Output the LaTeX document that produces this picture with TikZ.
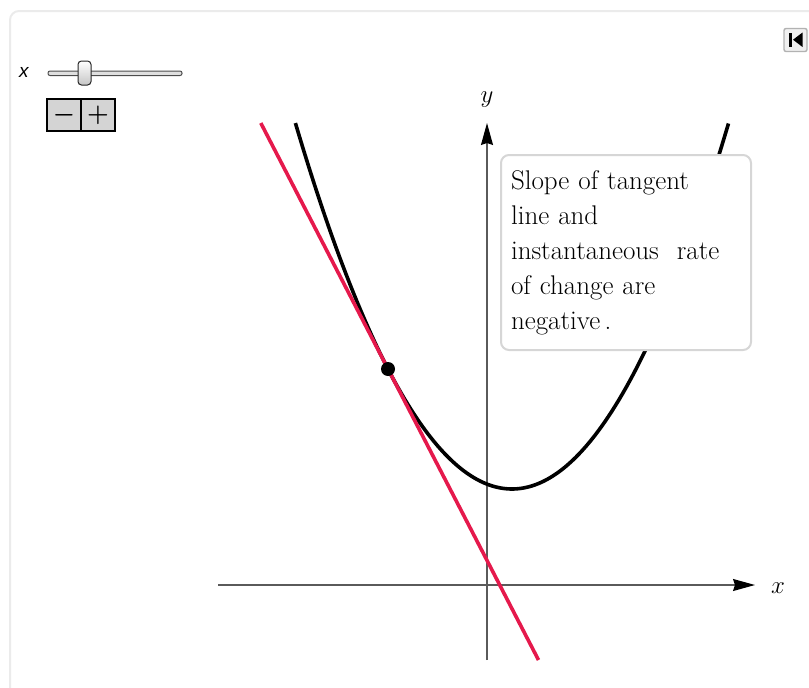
\documentclass[tikz,border=0pt]{standalone}
\usepackage{fontspec}
\setsansfont{Liberation Sans}
\usetikzlibrary{positioning,arrows.meta}
\definecolor{ink}{HTML}{000000}
\definecolor{rule}{HTML}{5A5A5A}
\definecolor{tangent}{HTML}{E5194C}
\definecolor{frame}{HTML}{EBEBEB}
\definecolor{boxline}{HTML}{D6D6D6}
\definecolor{btnfill}{HTML}{D4D4D4}
\tikzset{
  axis/.style     = {draw=rule, line width=1.2pt, -{Stealth[length=22pt,width=12pt,inset=2pt,color=ink]}},
  curve/.style    = {draw=ink, line width=3.6pt},
  tanline/.style  = {draw=tangent, line width=3.6pt},
  callout/.style  = {draw=boxline, fill=white, line width=2pt, rounded corners=8pt, anchor=north west,
                     outer sep=0pt, inner xsep=10pt, inner ysep=0pt, minimum width=250pt, minimum height=195pt,
                     text width=230pt, align=left, font=\fontsize{27}{35}\selectfont},
  axlab/.style    = {font=\fontsize{25}{30}\selectfont, inner sep=0pt, outer sep=0pt},
  btn/.style      = {draw=ink, fill=btnfill, line width=2pt, minimum width=34pt, minimum height=32pt,
                     inner sep=0pt, outer sep=0pt, font=\fontsize{30}{30}\selectfont\boldmath},
  dot/.style      = {circle, fill=ink, minimum size=14pt, inner sep=0pt},
}

\begin{document}
\begin{tikzpicture}[x=1pt,y=-1pt]
\path[use as bounding box] (0,0) rectangle (809,688);
\clip (0,0) rectangle (809,688);

% ---- the frame ----------------------------------------------------------
\draw[frame, line width=2pt, rounded corners=9pt] (10,720) -- (10,11) -- (840,11);

% ---- slider and steppers ------------------------------------------------
\node[anchor=center, font=\fontsize{19}{20}\selectfont\sffamily\itshape, inner sep=0pt] (xname) at (24,72) {x};
\draw[draw=gray!60!black, fill=gray!25, line width=1pt, rounded corners=2pt] (48,71) rectangle (182,75.5);
\draw[draw=gray!30!black, top color=white, bottom color=gray!45, line width=1pt, rounded corners=3.5pt] (78,61) rectangle (91,85);
\node[btn] (minus) at (64,115) {$-$};
\node[btn, right=0pt of minus] (plus) {$+$};

% ---- rewind icon --------------------------------------------------------
\node[draw=gray!60, fill=gray!12, line width=1.4pt, rounded corners=2pt, minimum size=23pt, inner sep=0pt] (rewind) at (795.5,40) {};
\fill[ink] (788.5,32.5) rectangle (791.5,47);
\fill[ink] (793,39.7) -- (802.5,32.5) -- (802.5,47) -- cycle;

% ---- axes ---------------------------------------------------------------
\coordinate (xtail) at (218,585);
\coordinate (xhead) at (755,585);
\coordinate (ytail) at (487,660);
\coordinate (yhead) at (487,123);
\draw[axis] (xtail) -- (xhead);
\draw[axis] (ytail) -- (yhead);
\node[axlab, right=16pt of xhead, yshift=-3pt] (xlab) {$x$};
\node[axlab, above=16pt of yhead] (ylab) {$y$};

% ---- curve and tangent --------------------------------------------------
\draw[curve] plot[domain=-2.166:2.166, samples=120, variable=\t] ({512+100*\t}, {489-78*\t*\t});
\coordinate (ttop) at (260.8,123);
\coordinate (tbot) at (538.5,660);
\draw[tanline] (ttop) -- (tbot);
\node[dot] (touch) at (388,369) {};

% ---- note ---------------------------------------------------------------
\node[callout] (note) at (501,155) {Slope of tangent\\ line and\\ instantaneous\ \ rate\\ of change are\\ negative\,.};

\end{tikzpicture}
\end{document}
